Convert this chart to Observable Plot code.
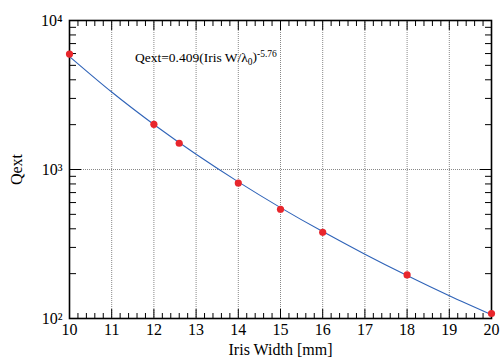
<!DOCTYPE html>
<html>
<head>
<meta charset="utf-8">
<script src="https://cdn.jsdelivr.net/npm/d3@7"></script>
<script src="https://cdn.jsdelivr.net/npm/@observablehq/plot@0.6"></script>
<style>
  body { margin: 0; background: #fff; }
  #chart svg, #chart svg text { font-family: "Liberation Serif", "DejaVu Serif", serif !important; }
</style>
</head>
<body>
<div id="chart"></div>
<script>
// Measured points
const irisWidth = [10, 12, 12.6, 14, 15, 16, 18, 20];
const qextMeasured = [5950, 2010, 1500, 812, 541, 379, 196, 108];

// Fit curve
const fitWidth = [10, 11, 12, 13, 14, 15, 16, 17, 18, 19, 20];
const fitQext = [5730, 3310, 2005, 1265, 826, 555, 383, 270, 194, 142, 106];

// Axis ticks
const xMajorTicks = [10, 11, 12, 13, 14, 15, 16, 17, 18, 19, 20];
const xMinorTicks = [10.2, 10.4, 10.6, 10.8, 11.2, 11.4, 11.6, 11.8, 12.2, 12.4, 12.6, 12.8,
  13.2, 13.4, 13.6, 13.8, 14.2, 14.4, 14.6, 14.8, 15.2, 15.4, 15.6, 15.8, 16.2, 16.4, 16.6, 16.8,
  17.2, 17.4, 17.6, 17.8, 18.2, 18.4, 18.6, 18.8, 19.2, 19.4, 19.6, 19.8];
const yMajorTicks = [100, 1000, 10000];
const yMajorLabels = ["10²", "10³", "10⁴"];
const yMinorTicks = [200, 300, 400, 500, 600, 700, 800, 900, 2000, 3000, 4000, 5000, 6000, 7000, 8000, 9000];
const xGrid = [11, 12, 13, 14, 15, 16, 17, 18, 19];
const yGrid = [1000];

const annotation = [{x: 11.55, y: 5600, text: "Qext=0.409(Iris W/λ0)-5.76"}];

const points = irisWidth.map((w, i) => ({w, q: qextMeasured[i]}));
const fit = fitWidth.map((w, i) => ({w, q: fitQext[i]}));

const gridStyle = {stroke: "#888", strokeWidth: 1, strokeDasharray: "1,1", strokeOpacity: 1};

const chart = Plot.plot({
  width: 502,
  height: 358,
  marginLeft: 69,
  marginRight: 11,
  marginTop: 20,
  marginBottom: 40,
  style: "font-family: 'Liberation Serif', serif; background: #fff;",
  x: {domain: [10, 20], label: null},
  y: {type: "log", domain: [100, 10000], label: null},
  marks: [
    Plot.ruleX(xGrid, {...gridStyle}),
    Plot.ruleY(yGrid, {...gridStyle}),
    // minor ticks (inward)
    Plot.axisX(xMinorTicks, {anchor: "bottom", tickSize: -5, text: null, stroke: "#000"}),
    Plot.axisX(xMinorTicks, {anchor: "top", tickSize: -5, text: null, stroke: "#000"}),
    Plot.axisY(yMinorTicks, {anchor: "left", tickSize: -7, text: null, stroke: "#000"}),
    Plot.axisY(yMinorTicks, {anchor: "right", tickSize: -7, text: null, stroke: "#000"}),
    // major ticks (inward)
    Plot.axisX(xMajorTicks, {anchor: "bottom", tickSize: -9, text: null, stroke: "#000"}),
    Plot.axisX(xMajorTicks, {anchor: "top", tickSize: -9, text: null, stroke: "#000"}),
    Plot.axisY(yMajorTicks, {anchor: "left", tickSize: -12, text: null, stroke: "#000"}),
    Plot.axisY(yMajorTicks, {anchor: "right", tickSize: -12, text: null, stroke: "#000"}),
    // labels
    Plot.axisX(xMajorTicks, {anchor: "bottom", tickSize: 0, tickPadding: 5, fontSize: 16, fill: "#000",
      label: "Iris Width [mm]", labelAnchor: "center", labelOffset: 36, labelArrow: "none"}),
    Plot.axisY(yMajorTicks, {anchor: "left", tickSize: 0, tickPadding: 7, fontSize: 16, fill: "#000",
      tickFormat: (d) => yMajorLabels[yMajorTicks.indexOf(d)],
      label: "Qext", labelAnchor: "center", labelOffset: 59, labelArrow: "none"}),
    Plot.frame({stroke: "#000", strokeWidth: 1.6}),
    Plot.line(fit, {x: "w", y: "q", curve: "natural", stroke: "#2f63b8", strokeWidth: 1.1}),
    Plot.dot(points, {x: "w", y: "q", r: 3.6, fill: "#e8262c", stroke: "none"}),
    Plot.text(annotation, {x: "x", y: "y", text: "text", textAnchor: "start", fontSize: 13.5, fill: "#000", className: "annot"})
  ]
});

document.getElementById("chart").appendChild(chart);

// Rich text for the annotation (subscript and superscript)
const t = chart.querySelector(".annot text");
if (t) {
  t.textContent = "";
  const ns = "http://www.w3.org/2000/svg";
  const add = (s, dy, size) => {
    const ts = document.createElementNS(ns, "tspan");
    ts.textContent = s;
    if (dy) ts.setAttribute("dy", dy);
    if (size) ts.setAttribute("font-size", size);
    t.appendChild(ts);
  };
  add("Qext=0.409(Iris W/λ");
  add("0", "0.3em", "9.5");
  add(")", "-0.3em");
  add("-5.76", "-0.45em", "9.5");
}
// axis label font sizes
chart.querySelectorAll("[aria-label='x-axis label'] text, [aria-label='y-axis label'] text").forEach(e => e.setAttribute("font-size", 16));
</script>
</body>
</html>
